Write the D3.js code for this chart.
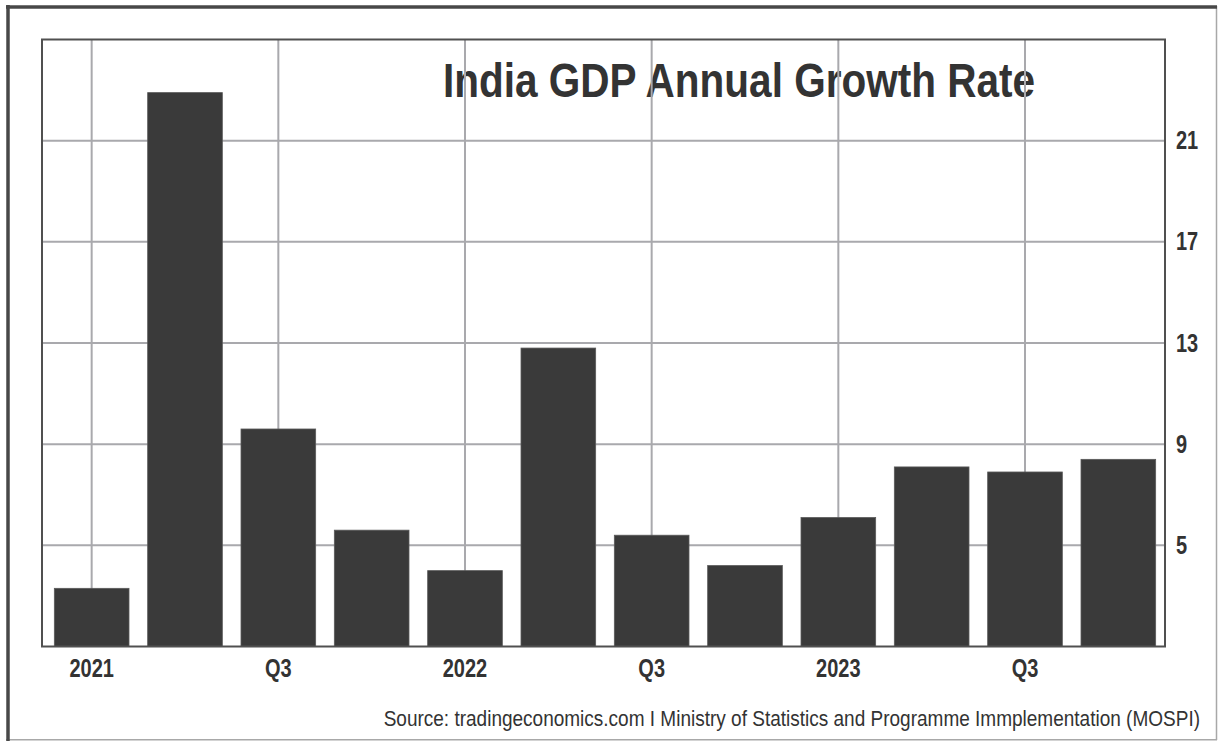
<!DOCTYPE html>
<html>
<head>
<meta charset="utf-8">
<script src="https://cdn.jsdelivr.net/npm/d3@7/dist/d3.min.js"></script>
<style>
  html, body { margin: 0; padding: 0; background: #fff; }
  svg { display: block; }
  text { font-family: "Liberation Sans Narrow", "Arial Narrow", "Liberation Sans", Arial, sans-serif; fill: #333; }
</style>
</head>
<body>
<svg id="chart" width="1219" height="741"></svg>
<script>
// Quarterly GDP growth, year on year (%)
const quarters = ["2021 Q1", "2021 Q2", "2021 Q3", "2021 Q4",
                  "2022 Q1", "2022 Q2", "2022 Q3", "2022 Q4",
                  "2023 Q1", "2023 Q2", "2023 Q3", "2023 Q4"];
const growth = [3.3, 22.9, 9.6, 5.6, 4.0, 12.8, 5.4, 4.2, 6.1, 8.1, 7.9, 8.4];

// Axis ticks
const yTicks = [5, 9, 13, 17, 21];
const xTickQuarters = ["2021 Q1", "2021 Q3", "2022 Q1", "2022 Q3", "2023 Q1", "2023 Q3"];
const xTickLabels = ["2021", "Q3", "2022", "Q3", "2023", "Q3"];

const titleText = "India GDP Annual Growth Rate";
const sourceText = "Source: tradingeconomics.com I Ministry of Statistics and Programme Immplementation (MOSPI)";

const svg = d3.select("#chart");
const plot = { left: 42, right: 1165, top: 39.5, bottom: 646.5 };

const x = d3.scaleBand()
  .domain(quarters)
  .range([45, plot.right])
  .paddingInner(0.2)
  .paddingOuter(0.1);

const y = d3.scaleLinear()
  .domain([1, 25])
  .range([plot.bottom, plot.top]);

const tickLabelOf = new Map(xTickQuarters.map((q, i) => [q, xTickLabels[i]]));

// Check whether a condensed face is available; otherwise squeeze text horizontally
const probe = svg.append("text").attr("font-size", 40).text("Growth Rate 2021");
const probeNarrow = probe.node().getComputedTextLength();
probe.style("font-family", "'Liberation Sans', Arial, sans-serif");
const probeWide = probe.node().getComputedTextLength();
probe.remove();
const squeeze = (probeWide - probeNarrow) < 2 ? 0.8 : 1;
function condense(sel) {
  sel.each(function () {
    const w = this.getComputedTextLength();
    if (squeeze !== 1) {
      d3.select(this).attr("textLength", w * squeeze).attr("lengthAdjust", "spacingAndGlyphs");
    }
  });
}

// Outer frame
const frame = svg.append("g");
frame.append("line").attr("x1", 1216.5).attr("x2", 1216.5).attr("y1", 6).attr("y2", 740)
  .attr("stroke", "#a8a8a8").attr("stroke-width", 1.5);
frame.append("line").attr("x1", 6).attr("x2", 1217).attr("y1", 739.8).attr("y2", 739.8)
  .attr("stroke", "#a8a8a8").attr("stroke-width", 1.5);
frame.append("line").attr("x1", 8).attr("x2", 8).attr("y1", 5).attr("y2", 741)
  .attr("stroke", "#484848").attr("stroke-width", 3.5);
frame.append("line").attr("x1", 6).attr("x2", 1217).attr("y1", 7).attr("y2", 7)
  .attr("stroke", "#484848").attr("stroke-width", 3.5);

// Title sits beneath the grid
svg.append("text")
  .attr("x", 443).attr("y", 97)
  .attr("font-size", 48)
  .attr("font-weight", "bold")
  .attr("fill", "#3a3a3a")
  .text(titleText)
  .attr("textLength", 592).attr("lengthAdjust", "spacingAndGlyphs");

// Grid
const grid = svg.append("g").attr("stroke", "#a9a9ad").attr("stroke-width", 2);
grid.selectAll("line.h").data(yTicks).join("line").attr("class", "h")
  .attr("x1", plot.left).attr("x2", plot.right)
  .attr("y1", d => y(d)).attr("y2", d => y(d));
grid.selectAll("line.v").data(xTickQuarters).join("line").attr("class", "v")
  .attr("x1", d => x(d) + x.bandwidth() / 2).attr("x2", d => x(d) + x.bandwidth() / 2)
  .attr("y1", plot.top).attr("y2", plot.bottom);

// Bars
svg.append("g").selectAll("rect").data(growth).join("rect")
  .attr("x", (d, i) => x(quarters[i]))
  .attr("width", x.bandwidth())
  .attr("y", d => y(d))
  .attr("height", d => y(y.domain()[0]) - y(d))
  .attr("fill", "#3a3a3a")
  .attr("stroke", "#5a5a5a")
  .attr("stroke-width", 0.8);

// Plot border
svg.append("rect")
  .attr("x", plot.left).attr("y", plot.top)
  .attr("width", plot.right - plot.left).attr("height", plot.bottom - plot.top)
  .attr("fill", "none").attr("stroke", "#505050").attr("stroke-width", 2);

// Right value axis
const yAxis = svg.append("g")
  .attr("transform", `translate(${plot.right},0)`)
  .call(d3.axisRight(y).tickValues(yTicks).tickSize(0).tickPadding(11).tickFormat(d3.format("d")))
  .attr("font-family", null).attr("font-size", null);
yAxis.select(".domain").remove();
yAxis.selectAll("text")
  .attr("font-size", 25)
  .attr("font-weight", "bold")
  .attr("fill", "#3a3a3a")
  .call(condense);

// Bottom time axis
const xAxis = svg.append("g")
  .attr("transform", `translate(0,${plot.bottom})`)
  .call(d3.axisBottom(x).tickValues(xTickQuarters).tickSize(0).tickPadding(13)
    .tickFormat(q => tickLabelOf.get(q)))
  .attr("font-family", null).attr("font-size", null);
xAxis.select(".domain").remove();
xAxis.selectAll("text")
  .attr("font-size", 25)
  .attr("font-weight", "bold")
  .attr("fill", "#3a3a3a")
  .call(condense);

// Source line, right-aligned and narrowed to fit its slot
const sourceG = svg.append("g");
const source = sourceG.append("text")
  .attr("x", 0).attr("y", 0)
  .attr("text-anchor", "end")
  .attr("font-size", 22)
  .attr("fill", "#333")
  .text(sourceText);
const sourceW = source.node().getComputedTextLength();
const sourceScale = Math.min(1, 817 / sourceW);
sourceG.attr("transform", `translate(1200,726) scale(${sourceScale},1)`);
</script>
</body>
</html>
